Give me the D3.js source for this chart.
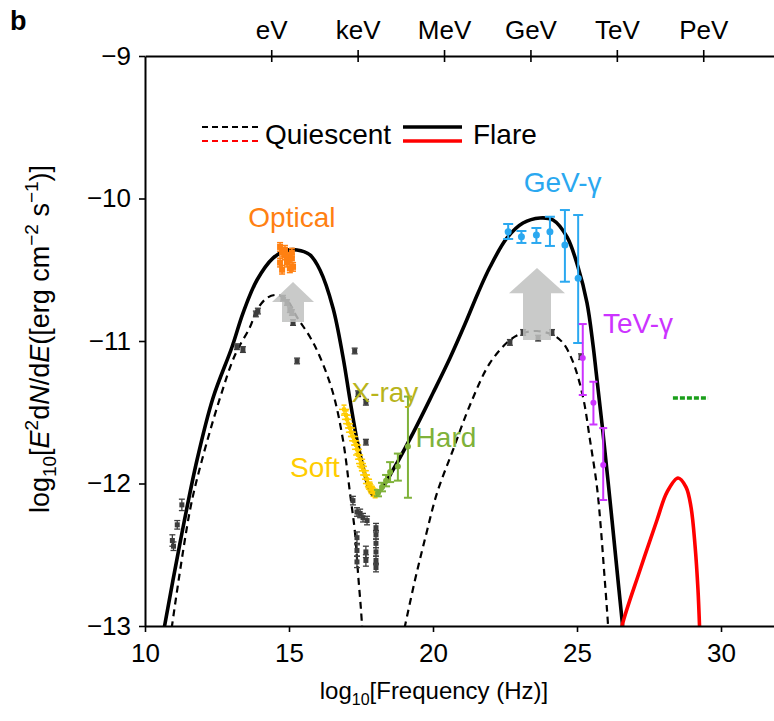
<!DOCTYPE html>
<html>
<head>
<meta charset="utf-8">
<script src="https://cdn.jsdelivr.net/npm/d3@7"></script>
<style>
  body { margin: 0; background: #fff; }
  svg { display: block; font-family: "Liberation Sans", Arial, Helvetica, sans-serif; }
</style>
</head>
<body>
<svg id="chart" width="774" height="721"></svg>
<script>
// Broadband SED: log10 frequency (Hz) vs log10 E^2 dN/dE (erg cm^-2 s^-1)

const xTicks = [10, 15, 20, 25, 30];
const yTicks = [-9, -10, -11, -12, -13];
const energyLabels = ["eV", "keV", "MeV", "GeV", "TeV", "PeV"];
const energyFreqs = [14.383, 17.383, 20.383, 23.383, 26.383, 29.383];

// Model curves [log nu, log flux]
const flareModel = [
  [10.625, -13.06], [11.215, -12.418], [11.806, -11.835], [12.361, -11.40], [13.021, -11.042],
  [13.403, -10.804], [13.889, -10.572], [14.444, -10.418], [14.861, -10.368], [15.278, -10.361],
  [15.729, -10.396], [16.076, -10.502], [16.528, -10.768], [16.875, -11.112], [17.118, -11.414],
  [17.361, -11.695], [17.569, -11.884], [17.743, -12.011], [17.917, -12.081], [18.125, -12.060],
  [18.611, -11.905], [19.306, -11.646], [20.0, -11.365], [20.590, -11.119], [21.111, -10.881],
  [21.563, -10.663], [21.979, -10.481], [22.569, -10.277], [23.125, -10.172], [23.715, -10.137],
  [24.167, -10.151], [24.653, -10.270], [25.035, -10.481], [25.347, -10.733], [25.556, -11.028],
  [25.66, -11.21], [25.903, -11.646], [26.215, -12.256], [26.458, -12.747], [26.632, -13.098]
];
const quiescentSyncModel = [
  [10.868, -13.098], [11.563, -12.186], [11.979, -11.835], [12.604, -11.40], [13.125, -11.098],
  [13.646, -10.902], [13.889, -10.782], [14.236, -10.698], [14.583, -10.677], [14.931, -10.712],
  [15.278, -10.832], [15.729, -10.972], [16.076, -11.112], [16.528, -11.365], [16.875, -11.695],
  [17.118, -12.067], [17.292, -12.347], [17.396, -12.628], [17.50, -12.888], [17.569, -13.098]
];
const quiescentICModel = [
  [18.924, -13.098], [19.375, -12.677], [19.757, -12.361], [20.139, -12.067], [20.694, -11.765],
  [21.285, -11.449], [21.979, -11.154], [22.674, -10.993], [23.125, -10.944], [23.611, -10.930],
  [24.167, -10.958], [24.514, -11.014], [24.861, -11.147], [25.208, -11.393], [25.451, -11.695],
  [25.694, -12.025], [25.833, -12.326], [25.938, -12.607], [26.042, -12.888], [26.111, -13.098]
];
const flareHadronicModel = [
  [26.493, -13.098], [26.563, -13.0], [27.188, -12.607], [27.778, -12.256], [28.125, -12.060],
  [28.507, -11.961], [28.785, -12.025], [28.958, -12.165], [29.097, -12.432], [29.201, -12.747],
  [29.271, -13.098]
];
// Upper level of the neutrino-derived limit (dashed green)
const neutrinoLevel = [[28.33, -11.40], [29.55, -11.40]];

// Archival (quiescent) measurements [log nu, log flux, error]
const quiescentData = [
  [11.28, -12.15, 0.04], [11.12, -12.29, 0.03], [10.95, -12.40, 0.04], [10.99, -12.44, 0.03],
  [13.19, -11.04, 0.02], [13.40, -11.06, 0.02], [13.85, -10.81, 0.02], [13.92, -10.79, 0.02],
  [14.79, -10.70, 0.02], [14.93, -10.73, 0.02], [15.03, -10.78, 0.02], [15.10, -10.80, 0.02],
  [15.14, -10.87, 0.02], [15.28, -11.14, 0.02], [17.28, -11.07, 0.02], [17.40, -11.37, 0.02],
  [17.67, -11.43, 0.02], [17.67, -11.71, 0.02], [17.22, -12.12, 0.03], [17.36, -12.20, 0.03],
  [17.47, -12.21, 0.03], [17.57, -12.24, 0.03], [17.71, -12.26, 0.03], [17.36, -12.38, 0.04],
  [17.36, -12.47, 0.04], [17.36, -12.55, 0.04], [17.67, -12.48, 0.04], [17.67, -12.54, 0.04],
  [18.02, -12.31, 0.03], [18.02, -12.36, 0.03], [18.02, -12.42, 0.03], [18.02, -12.48, 0.03],
  [18.02, -12.54, 0.03], [18.02, -12.59, 0.03],
  [22.67, -11.01, 0.02], [23.13, -10.94, 0.02], [23.65, -10.98, 0.02], [24.13, -10.94, 0.02],
  [25.14, -11.11, 0.02]
];

// Flare measurements
const opticalData = [
  [14.69, -10.34, 0.03], [14.76, -10.38, 0.03], [14.86, -10.40, 0.03], [14.97, -10.41, 0.03],
  [14.69, -10.45, 0.03], [14.93, -10.45, 0.03], [15.10, -10.42, 0.03], [15.14, -10.48, 0.03],
  [14.76, -10.50, 0.03], [15.03, -10.49, 0.03], [14.86, -10.36, 0.03], [15.10, -10.38, 0.03]
];
const softXrayData = [
  [16.91, -11.48], [16.98, -11.52], [17.01, -11.55], [17.05, -11.58], [17.12, -11.61],
  [17.15, -11.64], [17.22, -11.67], [17.26, -11.70], [17.33, -11.73], [17.36, -11.76],
  [17.40, -11.80], [17.47, -11.83], [17.50, -11.86], [17.53, -11.88], [17.60, -11.91],
  [17.64, -11.94], [17.71, -11.97], [17.74, -12.00], [17.81, -12.02], [17.85, -12.04],
  [17.92, -12.06], [17.99, -12.07]
];
// [log nu, log flux, lower, upper]
const hardXrayData = [
  [18.09, -12.067, -12.09, -12.045], [18.23, -12.025, -12.055, -11.995],
  [18.37, -11.98, -12.02, -11.94], [18.51, -11.92, -11.99, -11.85],
  [18.78, -11.88, -11.98, -11.79], [19.13, -11.74, -12.10, -11.39]
];
const gevData = [
  [22.61, -10.233, -10.284, -10.179], [23.07, -10.268, -10.312, -10.228],
  [23.59, -10.256, -10.312, -10.207], [24.06, -10.233, -10.333, -10.128],
  [24.58, -10.326, -10.584, -10.081], [25.04, -10.560, -11.014, -10.116]
];
const tevData = [
  [25.20, -11.119, -11.379, -10.881], [25.57, -11.433, -11.586, -11.286],
  [25.91, -11.870, -12.116, -11.611]
];

// Rise from quiescent to flare state: [log nu, base, tip]
const riseArrows = [[15.139, -10.867, -10.586], [23.611, -10.993, -10.488]];

const labels = [
  { text: "Optical", x: 15.10, y: -10.13, color: "#ff8012" },
  { text: "X-ray", x: 18.33, y: -11.36, color: "#b8b41c" },
  { text: "Soft", x: 15.90, y: -11.885, color: "#ffcc00" },
  { text: "Hard", x: 20.45, y: -11.68, color: "#7fb23a" },
  { text: "GeV-γ", x: 24.5, y: -9.89, color: "#2aa8f0" },
  { text: "TeV-γ", x: 27.12, y: -10.875, color: "#cc33ff" }
];

const svg = d3.select("#chart");
const x = d3.scaleLinear().domain([10, 31.84]).range([145, 774]);
const y = d3.scaleLinear().domain([-13, -9]).range([626, 56]);

svg.append("defs").append("clipPath").attr("id", "plot")
  .append("rect").attr("x", x(10)).attr("y", y(-9))
  .attr("width", x(31.84) - x(10)).attr("height", y(-13) - y(-9));

const line = d3.line().x(d => x(d[0])).y(d => y(d[1])).curve(d3.curveCatmullRom.alpha(0.5));
const plot = svg.append("g").attr("clip-path", "url(#plot)");

// model curves
plot.append("path").datum(quiescentSyncModel).attr("d", line)
  .attr("fill", "none").attr("stroke", "#000").attr("stroke-width", 2.2).attr("stroke-dasharray", "7,5");
plot.append("path").datum(quiescentICModel).attr("d", line)
  .attr("fill", "none").attr("stroke", "#000").attr("stroke-width", 2.2).attr("stroke-dasharray", "7,5");
plot.append("path").datum(flareModel).attr("d", line)
  .attr("fill", "none").attr("stroke", "#000").attr("stroke-width", 3.6);
plot.append("path").datum(flareHadronicModel).attr("d", line)
  .attr("fill", "none").attr("stroke", "#ff0000").attr("stroke-width", 3.6);
plot.append("path").datum(neutrinoLevel).attr("d", d3.line().x(d => x(d[0])).y(d => y(d[1])))
  .attr("fill", "none").attr("stroke", "#1a9f1a").attr("stroke-width", 3.5).attr("stroke-dasharray", "5,2");

// error bar + marker helper
function markers(g, data, color, opts) {
  const cap = opts.cap, size = opts.size;
  data.forEach(d => {
    const lo = d.length > 3 ? d[2] : d[1] - (d[2] || 0);
    const hi = d.length > 3 ? d[3] : d[1] + (d[2] || 0);
    const cx = x(d[0]);
    if (hi !== lo) {
      g.append("line").attr("x1", cx).attr("x2", cx).attr("y1", y(lo)).attr("y2", y(hi))
        .attr("stroke", color).attr("stroke-width", opts.bw);
      [lo, hi].forEach(v => g.append("line").attr("x1", cx - cap).attr("x2", cx + cap)
        .attr("y1", y(v)).attr("y2", y(v)).attr("stroke", color).attr("stroke-width", opts.bw));
    }
    if (opts.hbar) {
      g.append("line").attr("x1", cx - opts.hbar).attr("x2", cx + opts.hbar)
        .attr("y1", y(d[1])).attr("y2", y(d[1])).attr("stroke", color).attr("stroke-width", opts.bw);
    }
    if (opts.circle) {
      g.append("circle").attr("cx", cx).attr("cy", y(d[1])).attr("r", size / 2).attr("fill", color);
    } else {
      g.append("rect").attr("x", cx - size / 2).attr("y", y(d[1]) - size / 2)
        .attr("width", size).attr("height", size).attr("fill", color);
    }
  });
}

const pts = plot.append("g");
markers(pts, quiescentData, "#3d3d3d", { cap: 3, size: 5, bw: 1.3 });
markers(pts, opticalData, "#ff8012", { cap: 3, size: 6, bw: 1.5 });
markers(pts, softXrayData.map(d => [d[0], d[1], 0.03]), "#ffcc00", { cap: 2.5, size: 4, bw: 1.5, hbar: 5 });
markers(pts, hardXrayData, "#7fb23a", { cap: 4, size: 6, bw: 2, circle: true });
markers(pts, gevData, "#2aa8f0", { cap: 5, size: 7, bw: 2, circle: true });
markers(pts, tevData, "#cc33ff", { cap: 4, size: 6, bw: 2, circle: true });

// grey arrows showing the rise into the flare
riseArrows.forEach((a, i) => {
  const cx = x(a[0]), yb = y(a[1]), yt = y(a[2]);
  const len = yb - yt;
  const headW = i === 0 ? 21 : 28, shaftW = i === 0 ? 11 : 14;
  const headBase = yt + len * (i === 0 ? 0.5 : 0.35);
  const p = d3.path();
  p.moveTo(cx, yt); p.lineTo(cx + headW, headBase); p.lineTo(cx + shaftW, headBase);
  p.lineTo(cx + shaftW, yb); p.lineTo(cx - shaftW, yb); p.lineTo(cx - shaftW, headBase);
  p.lineTo(cx - headW, headBase); p.closePath();
  svg.append("path").attr("d", p.toString()).attr("fill", "#bfc1bf").attr("opacity", 0.85);
});

// text labels
labels.forEach(l => {
  svg.append("text").attr("x", x(l.x)).attr("y", y(l.y)).attr("text-anchor", "middle")
    .attr("dominant-baseline", "central").attr("font-size", 28).attr("fill", l.color).text(l.text);
});

// axes
function styleAxis(g) {
  g.select(".domain").attr("stroke-width", 2);
  g.selectAll(".tick line").attr("stroke-width", 1.6);
  g.selectAll(".tick text").attr("font-size", 26).attr("fill", "#000")
    .attr("font-family", "Liberation Sans, Arial, sans-serif");
}
svg.append("g").attr("transform", `translate(0,${y(-13)})`)
  .call(d3.axisBottom(x).tickValues(xTicks).tickSize(6).tickSizeOuter(0).tickPadding(12).tickFormat(d3.format("d")))
  .call(styleAxis);
svg.append("g").attr("transform", `translate(${x(10)},0)`)
  .call(d3.axisLeft(y).tickValues(yTicks).tickSize(6).tickSizeOuter(0).tickPadding(8).tickFormat(d3.format("d")))
  .call(styleAxis);
const energyAxis = svg.append("g").attr("transform", `translate(0,${y(-9)})`)
  .call(d3.axisTop(x).tickValues(energyFreqs).tickSize(6).tickSizeOuter(0).tickPadding(11)
    .tickFormat((d, i) => energyLabels[i]))
  .call(styleAxis);
energyAxis.selectAll(".tick line").attr("y1", 6);

// axis titles
const xTitle = svg.append("text").attr("x", 434).attr("y", 699).attr("text-anchor", "middle").attr("font-size", 24);
xTitle.append("tspan").text("log");
xTitle.append("tspan").attr("font-size", 16).attr("dy", 6).text("10");
xTitle.append("tspan").attr("dy", -6).text("[Frequency (Hz)]");

const yTitle = svg.append("text").attr("transform", "translate(49,339) rotate(-90)")
  .attr("text-anchor", "middle").attr("font-size", 27);
yTitle.append("tspan").text("log");
yTitle.append("tspan").attr("font-size", 19).attr("dy", 7).text("10");
yTitle.append("tspan").attr("dy", -7).text("[");
yTitle.append("tspan").attr("font-style", "italic").text("E");
yTitle.append("tspan").attr("font-size", 19).attr("dy", -11).text("2");
yTitle.append("tspan").attr("dy", 11).text("d");
yTitle.append("tspan").attr("font-style", "italic").text("N");
yTitle.append("tspan").text("/d");
yTitle.append("tspan").attr("font-style", "italic").text("E");
yTitle.append("tspan").text("([erg cm");
yTitle.append("tspan").attr("font-size", 19).attr("dy", -11).text("−2");
yTitle.append("tspan").attr("dy", 11).text(" s");
yTitle.append("tspan").attr("font-size", 19).attr("dy", -11).text("−1");
yTitle.append("tspan").attr("dy", 11).text(")]");

// legend
const lg = svg.append("g");
lg.append("line").attr("x1", 202).attr("x2", 258).attr("y1", 127).attr("y2", 127)
  .attr("stroke", "#000").attr("stroke-width", 2).attr("stroke-dasharray", "6,4");
lg.append("line").attr("x1", 202).attr("x2", 258).attr("y1", 141).attr("y2", 141)
  .attr("stroke", "#ff0000").attr("stroke-width", 2).attr("stroke-dasharray", "6,4");
lg.append("text").attr("x", 265).attr("y", 134).attr("dominant-baseline", "central")
  .attr("font-size", 28).text("Quiescent");
lg.append("line").attr("x1", 403).attr("x2", 462).attr("y1", 127).attr("y2", 127)
  .attr("stroke", "#000").attr("stroke-width", 3.6);
lg.append("line").attr("x1", 403).attr("x2", 462).attr("y1", 141).attr("y2", 141)
  .attr("stroke", "#ff0000").attr("stroke-width", 3.6);
lg.append("text").attr("x", 473).attr("y", 134).attr("dominant-baseline", "central")
  .attr("font-size", 28).text("Flare");

// panel letter
svg.append("text").attr("x", 10).attr("y", 30).attr("font-size", 27).attr("font-weight", "bold").text("b");
</script>
</body>
</html>
